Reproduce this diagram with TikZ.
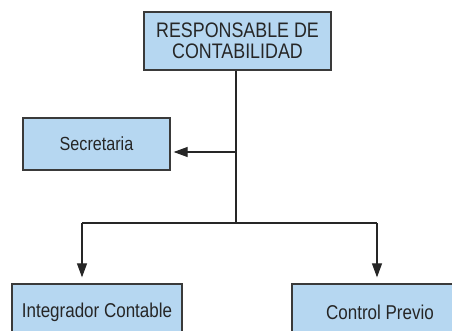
\documentclass[tikz,border=0pt]{standalone}
\usepackage{fontspec}
\setmainfont[FakeStretch=0.85]{Liberation Sans}
\usetikzlibrary{arrows.meta}
\definecolor{boxfill}{HTML}{B6D7F1}
\definecolor{boxline}{HTML}{3A3A3A}
\tikzset{
  unitbox/.style={draw=boxline, fill=boxfill, line width=1.3pt, inner sep=0pt, align=center, text=black!85},
  link/.style={draw=black!85, line width=1.2pt},
  arr/.style={link, -{Triangle[length=14pt,width=10pt]}}
}
\begin{document}
\begin{tikzpicture}[x=1pt,y=-1pt]
\useasboundingbox (0,0) rectangle (452,331);
\clip (0,0) rectangle (452,331);
\node[unitbox, minimum width=187pt, minimum height=58pt, font=\fontsize{21}{21}\selectfont] (resp) at (237.5,41) {RESPONSABLE DE\\CONTABILIDAD};
\node[unitbox, minimum width=147pt, minimum height=52pt, font=\fontsize{19}{20}\selectfont] (sec) at (96.5,144) {Secretaria};
\node[unitbox, minimum width=170pt, minimum height=56pt, font=\fontsize{20}{20}\selectfont] (integ) at (97,312) {Integrador Contable};
\node[unitbox, minimum width=176pt, minimum height=56pt, font=\fontsize{20}{20}\selectfont] (ctrl) at (380,312) {Control Previo};
\coordinate (junc) at (236,223);
\coordinate (mid) at (236,152);
\coordinate (lft) at (82,223);
\coordinate (rgt) at (377,223);
\draw[link] (resp.south -| junc) -- (junc);
\draw[arr, shorten >=3pt] (mid) -- (mid -| sec.east);
\draw[link] (lft) -- (rgt);
\draw[arr, shorten >=6pt] (lft) -- (lft |- integ.north);
\draw[arr, shorten >=6pt] (rgt) -- (rgt |- ctrl.north);
\end{tikzpicture}
\end{document}
